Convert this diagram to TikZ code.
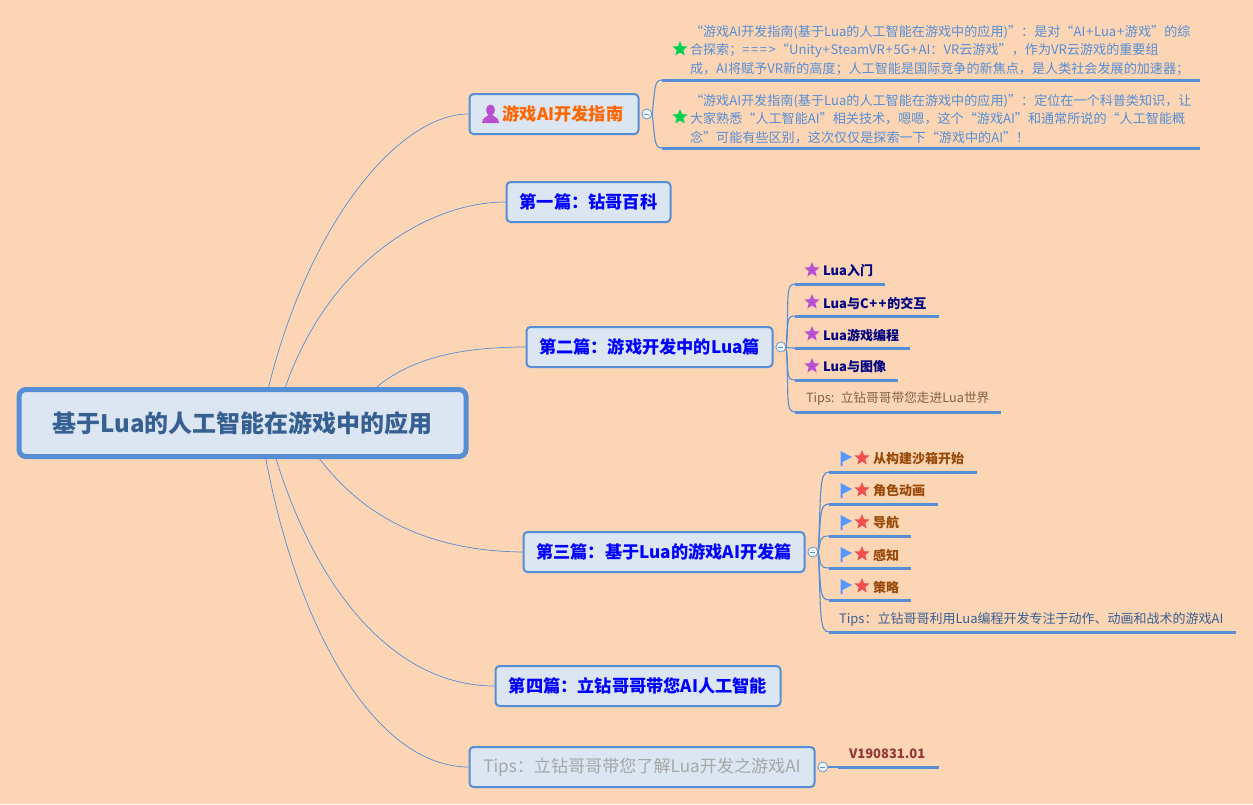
\documentclass[tikz,border=0pt]{standalone}
\usepackage{fontspec}
\setmainfont{Noto Sans CJK SC}
\usetikzlibrary{positioning,shapes.geometric}
\definecolor{paper}{HTML}{FCD5B5}
\definecolor{rulec}{HTML}{558ED5}
\definecolor{boxc}{HTML}{DCE6F2}
\definecolor{rootc}{HTML}{376092}
\definecolor{hintc}{HTML}{FF6600}
\definecolor{tipc}{HTML}{A6A6A6}
\definecolor{luac}{HTML}{000080}
\definecolor{aic}{HTML}{984807}
\definecolor{brownc}{HTML}{7F6347}
\definecolor{verc}{HTML}{953735}
\definecolor{greenstar}{HTML}{00D050}
\definecolor{purplestar}{HTML}{B84FD0}
\definecolor{redstar}{HTML}{F05050}
\definecolor{flagc}{HTML}{5599FF}
\newcommand{\fs}[1]{\fontsize{#1}{#1}\selectfont}
\newcommand{\pl}{\kern.7pt+\kern.7pt}
\newcommand{\eq}{=\kern1.5pt}
\begin{document}
\begin{tikzpicture}[x=1pt,y=-1pt,
 root/.style={draw=rulec,line width=5pt,rounded corners=7pt,fill=boxc,text=rootc,inner sep=0pt,minimum height=67pt,font=\fs{24}\bfseries},
 box/.style={draw=rulec,line width=2pt,rounded corners=4pt,fill=boxc,text=blue,inner sep=0pt,minimum height=40pt,font=\fs{17.2}\bfseries},
 fold/.style={circle,draw=rulec,fill=white!92!rulec,line width=.7pt,minimum size=10pt,inner sep=0pt,path picture={\draw[rulec,line width=.8pt] ([xshift=-2.5pt]path picture bounding box.center)--([xshift=2.5pt]path picture bounding box.center);}},
 leaf/.style n args={2}{inner xsep=0pt,inner ysep=0pt,outer sep=0pt,minimum height=26pt,text width=#1,align=left,execute at begin node={\leftskip=#2\relax},font=\fs{13}},
 note/.style={anchor=south west,text=rulec,inner ysep=4.5pt,font=\fontsize{13.1}{18.5}\selectfont},
 rulel/.style={draw=rulec,line width=3pt},
 link/.style={draw=rulec,line width=.7pt},
 twig/.style={draw=rulec,line width=1.1pt},
 mark star/.style={star,star points=5,star point ratio=2.3,fill=#1,inner sep=0pt,minimum size=16pt},
 flag/.pic={\fill[flagc] (-.5,-7)--(11,-1)--(1.5,4)--(1.5,8)--(-.5,8)--cycle;}]
\fill[paper] (0,0) rectangle (1253,804);
\useasboundingbox (0,0) rectangle (1253,804);
% centre and first level
\node[root,minimum width=447pt] (root) at (242.5,423) {基于Lua的人工智能在游戏中的应用};
\node[box,minimum width=169pt,text=hintc] (guide) at (554,114) {\hspace{18pt}游戏AI开发指南};
\node[box,minimum width=164pt] (part1) at (588.5,202) {第一篇：钻哥百科};
\node[box,minimum width=246pt] (part2) at (649.5,347) {第二篇：游戏开发中的Lua篇};
\node[box,minimum width=281pt] (part3) at (664,552) {第三篇：基于Lua的游戏AI开发篇};
\node[box,minimum width=285pt] (part4) at (638,686) {第四篇：立钻哥哥带您AI人工智能};
\node[box,minimum width=345pt,text=tipc,font=\fs{17.1}] (tips) at (642,767) {Tips：立钻哥哥带您了解Lua开发之游戏AI};
\draw[link] (root.54) .. controls (310,220) and (400,114) .. (guide.west);
\draw[link] (root.40.5) .. controls (330,260) and (430,202) .. (part1.west);
\draw[link] (root.15) .. controls (415,355) and (470,347) .. (part2.west);
\draw[link] (root.-25.5) .. controls (370,525) and (440,551) .. (part3.west);
\draw[link] (root.-47.5) .. controls (320,600) and (400,686) .. (part4.west);
\draw[link] (root.-57.6) .. controls (300,640) and (380,767) .. (tips.west);
% fold marks
\node[fold,right=2pt of guide] (foldg) {};
\node[fold,right=2pt of part2] (fold2) {};
\node[fold,right=2pt of part3] (fold3) {};
\node[fold,right=2pt of tips] (foldt) {};
% guide notes
\node[leaf={538pt}{28pt},note] (note1) at (662,80) {“游戏AI开发指南(基于Lua的人工智能在游戏中的应用)”：是对“AI\pl Lua\pl 游戏”的综\\合探索；\eq\eq\eq>“Unity\pl SteamVR\pl 5G\pl AI：VR云游戏”，作为VR云游戏的重要组\\成，AI将赋予VR新的高度；人工智能是国际竞争的新焦点，是人类社会发展的加速器；};
\node[leaf={538pt}{28pt},note] (note2) at (662,148) {“游戏AI开发指南(基于Lua的人工智能在游戏中的应用)”：定位在一个科普类知识，让\\大家熟悉“人工智能AI”相关技术，嗯嗯，这个“游戏AI”和通常所说的“人工智能概\\念”可能有些区别，这次仅仅是探索一下“游戏中的AI”！};
\node[mark star=greenstar] (sn1) at (680,49) {};
\node[mark star=greenstar] (sn2) at (680,117) {};
% lua leaves
\node[leaf={90pt}{28pt},anchor=south west,text=luac,font=\fs{13}\bfseries] (lua1) at (795,284) {Lua入门};
\node[leaf={144pt}{28pt},below right=6pt and 0pt of lua1.south west,text=luac,font=\fs{13}\bfseries] (lua2) {Lua与C\pl\pl 的交互};
\node[leaf={115pt}{28pt},below right=6pt and 0pt of lua2.south west,text=luac,font=\fs{13}\bfseries] (lua3) {Lua游戏编程};
\node[leaf={103pt}{28pt},below right=6pt and 0pt of lua3.south west,text=luac,font=\fs{13}\bfseries] (lua4) {Lua与图像};
\node[leaf={206pt}{11pt},below right=6pt and 0pt of lua4.south west,text=brownc,font=\fs{12.7}] (lua5) {Tips: 立钻哥哥带您走进Lua世界};
\foreach \n in {lua1,lua2,lua3,lua4}
 \node[mark star=purplestar] at ([xshift=17pt,yshift=1pt]\n.west) {};
% ai leaves
\node[leaf={148pt}{44pt},anchor=south west,text=aic,font=\fs{13}\bfseries] (ai1) at (829,472) {从构建沙箱开始};
\node[leaf={109pt}{44pt},below right=6pt and 0pt of ai1.south west,text=aic,font=\fs{13}\bfseries] (ai2) {角色动画};
\node[leaf={82pt}{44pt},below right=6pt and 0pt of ai2.south west,text=aic,font=\fs{13}\bfseries] (ai3) {导航};
\node[leaf={82pt}{44pt},below right=6pt and 0pt of ai3.south west,text=aic,font=\fs{13}\bfseries] (ai4) {感知};
\node[leaf={82pt}{44pt},below right=6pt and 0pt of ai4.south west,text=aic,font=\fs{13}\bfseries] (ai5) {策略};
\node[leaf={407pt}{10pt},below right=6pt and 0pt of ai5.south west,text=rootc] (ai6) {Tips：立钻哥哥利用Lua编程开发专注于动作、动画和战术的游戏AI};
\foreach \n in {ai1,ai2,ai3,ai4,ai5}{
 \pic at ([xshift=12pt,yshift=1pt]\n.west) {flag};
 \node[mark star=redstar] at ([xshift=33pt,yshift=1pt]\n.west) {};
}
% version
\node[leaf={101pt}{11pt},anchor=south west,text=verc,font=\fs{13}\bfseries] (ver) at (838,767) {V190831.01};
\foreach \n in {note1,note2,lua1,lua2,lua3,lua4,lua5,ai1,ai2,ai3,ai4,ai5,ai6,ver}
 \draw[rulel] (\n.south west)--(\n.south east);
% twigs
\draw[twig] (foldg.east) .. controls +(3,-26) and +(-8,0) .. (note1.south west);
\draw[twig] (foldg.east) .. controls +(3,26) and +(-8,0) .. (note2.south west);
\foreach \n/\d in {lua1/-50,lua2/-24,lua3/0,lua4/24,lua5/50}
 \draw[twig] (fold2.east) .. controls +(3,\d) and +(-10,0) .. (\n.south west);
\foreach \n/\d in {ai1/-62,ai2/-36,ai3/-12,ai4/12,ai5/36,ai6/62}
 \draw[twig] (fold3.east) .. controls +(3,\d) and +(-10,0) .. (\n.south west);
\draw[twig] (foldt.east) -- (ver.south west);
% person mark
\fill[purplestar] (490.5,110) ellipse (4.5pt and 5.5pt);
\fill[purplestar] (482,123) .. controls (482,117) and (488,117) .. (489,114) -- (492,114) .. controls (493,117) and (499,117) .. (499,123) -- cycle;
\end{tikzpicture}
\end{document}
